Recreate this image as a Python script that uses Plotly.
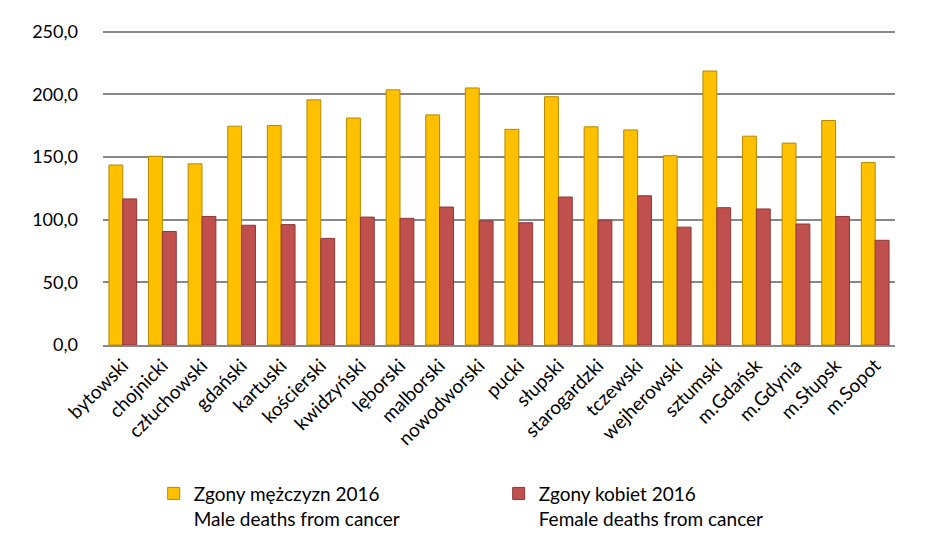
import plotly.graph_objects as go

categories = ["bytowski", "chojnicki", "człuchowski", "gdański", "kartuski", "kościerski",
              "kwidzyński", "lęborski", "malborski", "nowodworski", "pucki", "słupski",
              "starogardzki", "tczewski", "wejherowski", "sztumski", "m.Gdańsk", "m.Gdynia",
              "m.Słupsk", "m.Sopot"]
male = [143.5, 150.5, 144.5, 174.5, 175.0, 195.5, 181.0, 203.5, 183.5, 205.0, 172.0, 198.0,
        174.0, 171.5, 151.0, 218.5, 166.5, 161.0, 179.0, 145.5]
female = [116.5, 90.5, 102.5, 95.5, 96.0, 85.0, 102.0, 101.0, 110.0, 99.0, 97.5, 118.0,
          99.5, 119.0, 94.0, 109.5, 108.5, 96.5, 102.5, 83.5]
male_name = "Zgony mężczyzn 2016<br>Male deaths from cancer"
female_name = "Zgony kobiet 2016<br>Female deaths from cancer"
yticks = [0, 50, 100, 150, 200, 250]

FONT = "Lato"

fig = go.Figure()
fig.add_trace(go.Bar(x=categories, y=male, name=male_name,
                     marker=dict(color="#FFC000", line=dict(color="#B38A00", width=1))))
fig.add_trace(go.Bar(x=categories, y=female, name=female_name,
                     marker=dict(color="#C0504D", line=dict(color="#8C3836", width=1))))

fig.update_layout(
    width=945, height=554,
    margin=dict(l=95, r=58, t=21, b=217),
    paper_bgcolor="white", plot_bgcolor="white",
    barmode="group", bargap=0.3, bargroupgap=0,
    separators=", ",
    font=dict(family=FONT, size=19, color="black"),
    showlegend=True,
    legend=dict(orientation="h", x=0.064, y=-0.41, xanchor="left", yanchor="top",
                entrywidth=300, entrywidthmode="pixels", valign="top",
                font=dict(family=FONT, size=19, color="black"), traceorder="normal"),
    xaxis=dict(tickangle=-45, showgrid=False, showline=True, linecolor="#878787",
               linewidth=2, ticks="", automargin=False,
               tickfont=dict(family=FONT, size=19, color="black")),
    yaxis=dict(range=[0, 252], tickvals=yticks, tickformat=".1f", showgrid=True,
               gridcolor="#878787", gridwidth=2, zeroline=False, showline=False,
               automargin=False, ticklabelstandoff=24,
               tickfont=dict(family=FONT, size=18, color="black")),
)

fig.write_html("out.html")
